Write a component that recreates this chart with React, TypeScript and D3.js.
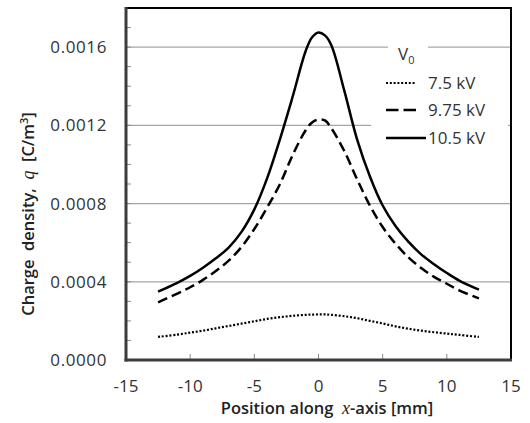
import React from "react"
import * as d3 from "d3"

// positions along x (mm)
const xs = [-12.5, -11, -10, -9, -8, -7, -6, -5, -4, -3, -2, -1, -0.5, 0, 0.5, 1, 2, 3, 4, 5, 6, 7, 8, 9, 10, 11, 12.5]

// charge density [C/m3] per applied voltage
const q75 = [0.000118, 0.00013, 0.00014, 0.00015, 0.000162, 0.000174, 0.000186, 0.000198, 0.00021, 0.000219, 0.000226, 0.000231, 0.000232, 0.000233, 0.000233, 0.000231, 0.000224, 0.000214, 0.0002, 0.000187, 0.000172, 0.00016, 0.00015, 0.000142, 0.000135, 0.000128, 0.000118]
const q975 = [0.000295, 0.00034, 0.000372, 0.00041, 0.000455, 0.000508, 0.000578, 0.00067, 0.00078, 0.0009, 0.00105, 0.001175, 0.001215, 0.00123, 0.001225, 0.001185, 0.00107, 0.000925, 0.00079, 0.00068, 0.000595, 0.000525, 0.00047, 0.000425, 0.00039, 0.000355, 0.000315]
const q105 = [0.00035, 0.000395, 0.00043, 0.000472, 0.00052, 0.000575, 0.000655, 0.00077, 0.00093, 0.00113, 0.00135, 0.00158, 0.00165, 0.001675, 0.00166, 0.00161, 0.00138, 0.00113, 0.00094, 0.00079, 0.000685, 0.000605, 0.00054, 0.00049, 0.000445, 0.000405, 0.00036]

const seriesNames = ["7.5 kV", "9.75 kV", "10.5 kV"]
const xTicks = [-15, -10, -5, 0, 5, 10, 15]
const yTicks = [0, 0.0004, 0.0008, 0.0012, 0.0016]

const font = "'Open Sans', sans-serif"

export default function App() {
    const left = 126, right = 511, top = 8, bottom = 360
    const x = d3.scaleLinear().domain([-15, 15]).range([left, right])
    const y = d3.scaleLinear().domain([0, 0.0018]).range([bottom, top])

    const line = d3.line<number>()
        .x((d, i) => x(xs[i]))
        .y(d => y(d))
        .curve(d3.curveCatmullRom.alpha(0.5))

    const styles = [
        { dash: "2 1.8", width: 2.2, legendDash: "2 1.8" },
        { dash: "10 5", width: 2.5, legendDash: "12.5 5" },
        { dash: null, width: 2.5, legendDash: null },
    ]
    const data = [q75, q975, q105]
    const minor = d3.range(1, 18).map(i => i * 0.0001)

    return (
        <svg width={530} height={423} style={{ position: "absolute", left: 0, top: 0, background: "#fff" }}
            fontFamily={font}>
            {yTicks.filter(t => t > 0).map(t => (
                <line key={"g" + t} x1={left} x2={right} y1={y(t)} y2={y(t)} stroke="#a6a6a6" strokeWidth={1.2} />
            ))}
            {minor.map(t => (
                <line key={"m" + t} x1={left} x2={left + 5} y1={y(t)} y2={y(t)} stroke="#8a8a8a" strokeWidth={1} />
            ))}
            {xTicks.slice(1, -1).map(t => (
                <line key={"xt" + t} x1={x(t)} x2={x(t)} y1={bottom} y2={bottom - 6} stroke="#8a8a8a" strokeWidth={1} />
            ))}

            {/* legend backgrounds */}
            <rect x={388} y={34} width={40} height={32} fill="#fff" />
            <rect x={371} y={68} width={137} height={82} fill="#fff" />

            {data.map((vals, i) => (
                <path key={"s" + i} d={line(vals) || ""} fill="none" stroke="#000"
                    strokeWidth={styles[i].width} strokeDasharray={styles[i].dash || undefined} />
            ))}

            <rect x={left} y={top} width={right - left} height={bottom - top} fill="none" stroke="#000" strokeWidth={2} />
            <line x1={left} x2={left} y1={top - 1} y2={bottom + 1.5} stroke="#3c3c3c" strokeWidth={3} />
            <line x1={left - 1.5} x2={right + 1} y1={bottom} y2={bottom} stroke="#3c3c3c" strokeWidth={3} />

            {yTicks.map(t => (
                <text key={"yl" + t} x={107} y={y(t)} dy="0.35em" textAnchor="end" fontSize={17}
                    letterSpacing={0.6} fill="#333">{t.toFixed(4)}</text>
            ))}
            {xTicks.map(t => (
                <text key={"xl" + t} x={x(t)} y={392} textAnchor="middle" fontSize={17} fill="#333">{t}</text>
            ))}

            <text x={327} y={414} textAnchor="middle" fontSize={16.5} fontWeight={600} fill="#222">
                Position along{"\u00a0\u00a0"}
                <tspan fontFamily="'Liberation Serif', serif" fontStyle="italic" fontWeight="normal" fontSize={18}>x</tspan>
                -axis [mm]
            </text>
            <text transform="translate(34,214) rotate(-90)" textAnchor="middle" fontSize={16.5} fontWeight={600} fill="#222">
                Charge{"\u00a0\u00a0"}density,{"\u00a0\u00a0"}
                <tspan fontFamily="'Liberation Serif', serif" fontStyle="italic" fontWeight="normal" fontSize={18}>q</tspan>
                {"\u00a0\u00a0"}[C/m
                <tspan fontSize={11} dy={-6}>3</tspan>
                <tspan dy={6}>]</tspan>
            </text>

            {/* legend */}
            <text x={398} y={60} fontSize={17} fill="#333">V<tspan fontSize={11} dy={4}>0</tspan></text>
            {seriesNames.map((name, i) => {
                const ly = [83, 110, 138][i]
                const x2 = i === 2 ? 426 : 416
                return (
                    <g key={"lg" + i}>
                        <line x1={386} x2={x2} y1={ly} y2={ly} stroke="#000" strokeWidth={styles[i].width}
                            strokeDasharray={styles[i].legendDash || undefined} />
                        <text x={428} y={ly} dy="0.35em" fontSize={17} fill="#333">{name}</text>
                    </g>
                )
            })}
        </svg>
    )
}
